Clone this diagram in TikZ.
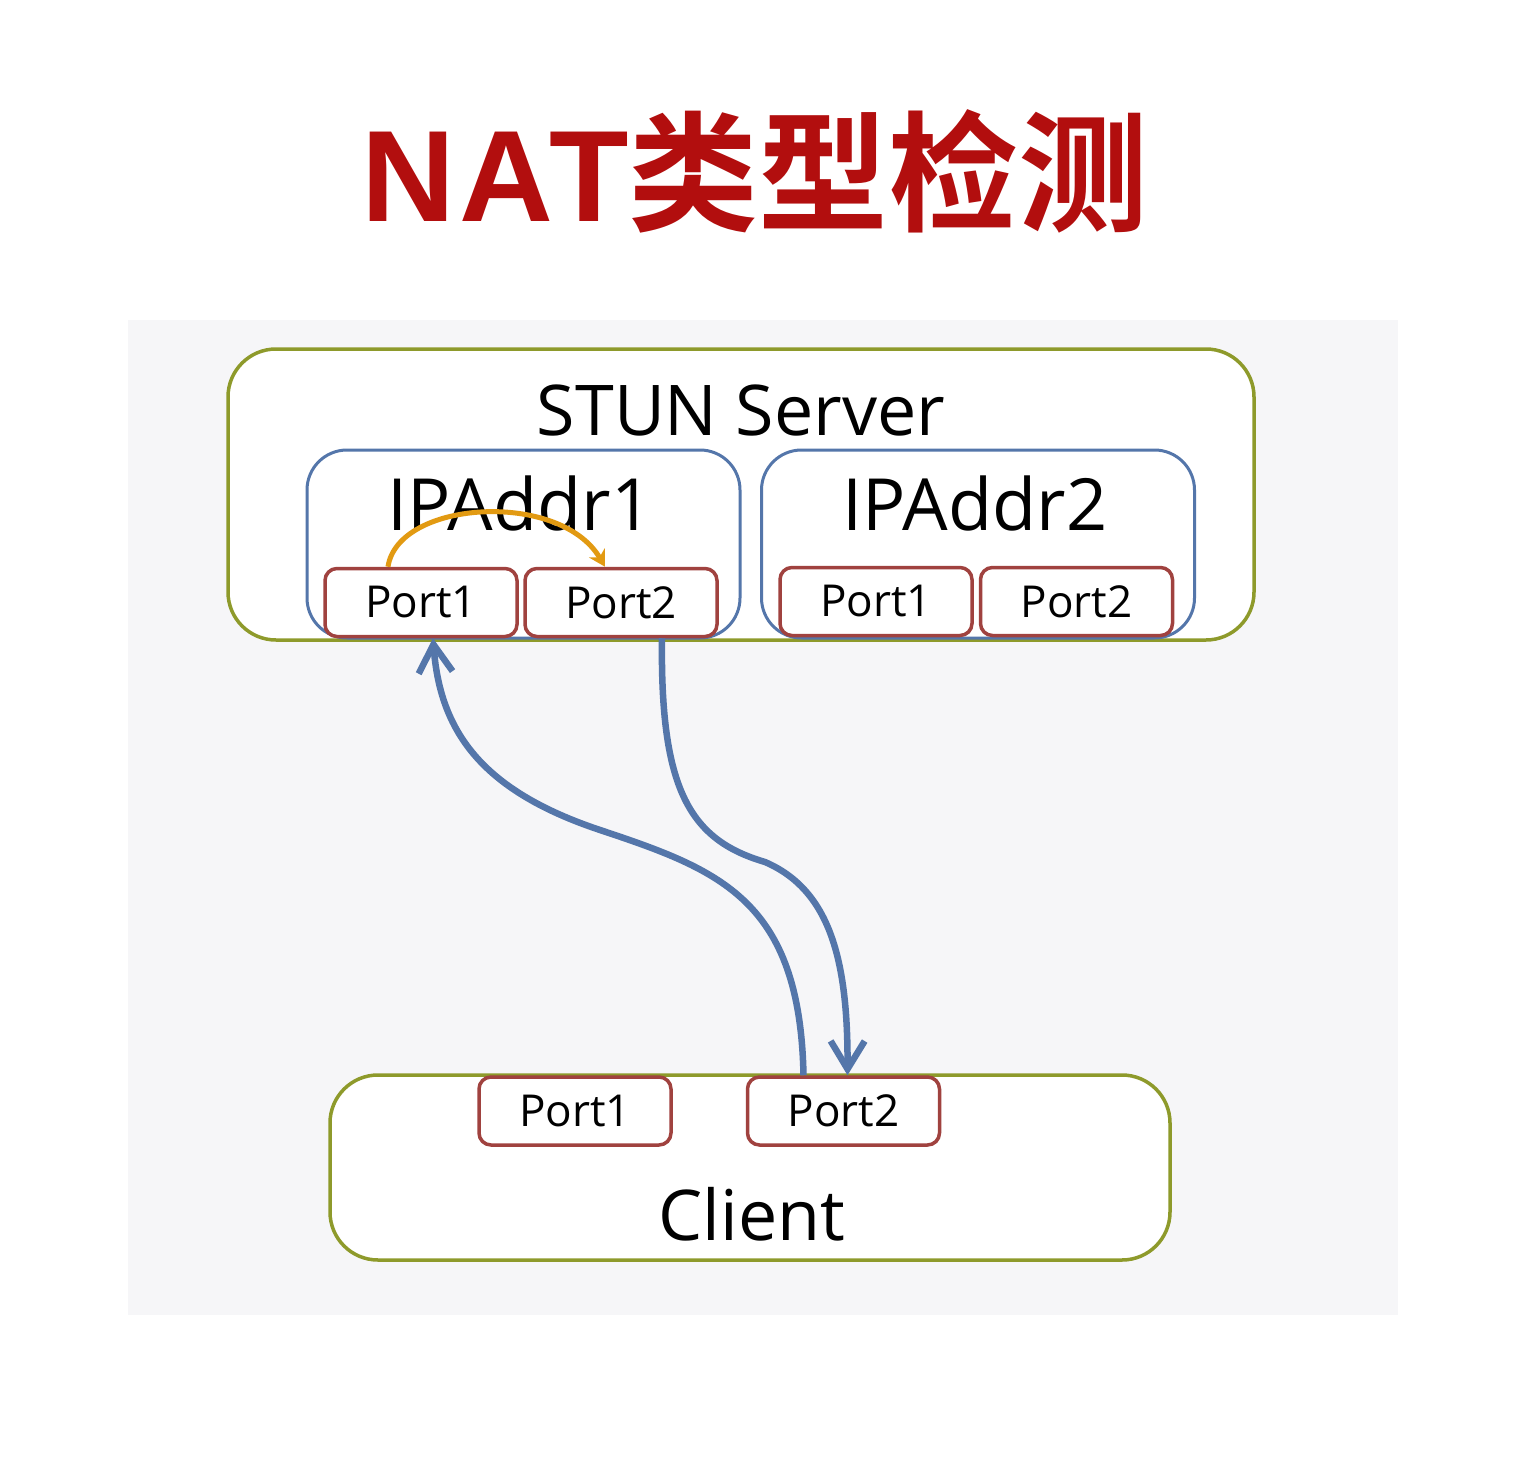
\documentclass[tikz,border=0pt]{standalone}
\usepackage{fontspec}
\setmainfont{Open Sans}
\newfontfamily\titlefont{Liberation Sans}[LetterSpace=4]
\newfontfamily\cjk{Noto Sans CJK SC}[BoldFont={Noto Sans CJK SC Bold}]
\usetikzlibrary{arrows.meta, positioning}

\definecolor{boxgreen}{HTML}{8E9A2B}
\definecolor{boxblue}{HTML}{5476AA}
\definecolor{portred}{HTML}{A0423F}
\definecolor{arcorange}{HTML}{E29A12}
\definecolor{titlered}{HTML}{B20E0E}
\definecolor{bggray}{HTML}{F6F6F8}

\begin{document}
\begin{tikzpicture}[
    x=1pt, y=-1pt,
    host/.style={rectangle, draw=boxgreen, line width=3.5pt, rounded corners=48pt, fill=white, inner sep=0pt},
    ipbox/.style={rectangle, draw=boxblue, line width=3pt, rounded corners=40pt, fill=white, inner sep=0pt, minimum width=433pt, minimum height=188pt},
    port/.style={rectangle, draw=portred, line width=3.5pt, rounded corners=12pt, fill=white, inner sep=0pt, minimum width=192pt, minimum height=68pt, font=\fontsize{44}{50}\selectfont},
    lbl/.style={anchor=base, inner sep=0pt, font=\fontsize{70}{80}\selectfont},
    flow/.style={draw=boxblue, line width=6.5pt, -{Straight Barb[length=28pt,width=34pt]}},
    loop/.style={draw=arcorange, line width=5pt, -{Stealth[length=16pt,width=18pt]}}
]
\useasboundingbox (0,0) rectangle (1532,1477);
\fill[bggray] (128,320) rectangle (1398,1315);

% title
\node[anchor=base, inner sep=0pt, text=titlered] (title) at (755,222)
  {\fontsize{130}{140}\selectfont\bfseries\titlefont NAT\cjk 类型检测};

% server side
\node[host, minimum width=1026pt, minimum height=291pt] (stun) at (741,494.5) {};
\node[lbl] (stunlbl) at (741,435) {STUN Server};
\node[ipbox] (ip1) at (523.5,544) {};
\node[ipbox] (ip2) at (978,544) {};
\node[lbl, font=\fontsize{72}{80}\selectfont] (ip1lbl) at (520,530) {IPAddr1};
\node[lbl, font=\fontsize{72}{80}\selectfont] (ip2lbl) at (975,530) {IPAddr2};
\node[port] (s1p1) at (421,602.5) {Port1};
\node[port] (s1p2) at (621,602.5) {Port2};
\node[port] (s2p1) at (876,601.5) {Port1};
\node[port] (s2p2) at (1076.5,601.5) {Port2};

% client side
\node[host, minimum width=840pt, minimum height=185pt] (client) at (750,1167.5) {};
\node[port] (cp1) at (575,1111) {Port1};
\node[port] (cp2) at (843.5,1111) {Port2};
\node[lbl] (clientlbl) at (752,1240) {Client};

% messages
\draw[loop] ([xshift=-33pt]s1p1.north) .. controls (398,500) and (560,490) .. ([xshift=-16pt]s1p2.north);
\draw[flow] ([xshift=-40pt]cp2.north) .. controls (800,900) and (720,870) .. (600,830)
  .. controls (480,790) and (440,730) .. ([xshift=12pt]s1p1.south);
\draw[flow] ([xshift=41pt]s1p2.south) .. controls (660,790) and (690,840) .. (765,862)
  .. controls (830,890) and (848,960) .. ([xshift=4pt]cp2.north);

\end{tikzpicture}
\end{document}
